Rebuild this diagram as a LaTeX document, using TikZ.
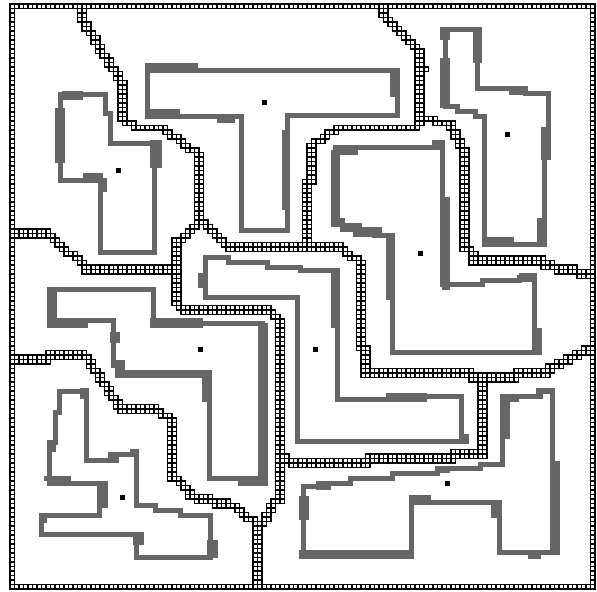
\documentclass[tikz,border=0pt]{standalone}
\usetikzlibrary{calc}

\definecolor{wallgray}{RGB}{102,102,102}

% one run of grid cells from (#1,#2) to (#3,#4), grid units
\newcommand{\cellrun}[4]{%
  \pgfmathtruncatemacro{\nst}{max(abs((#3)-(#1)),abs((#4)-(#2)))}%
  \foreach \k in {0,...,\nst}{%
    \ifnum\nst=0
      \pgfmathsetmacro{\ci}{#1}\pgfmathsetmacro{\cj}{#2}%
    \else
      \pgfmathsetmacro{\ci}{round((#1)+((#3)-(#1))/\nst*\k)}%
      \pgfmathsetmacro{\cj}{round((#2)+((#4)-(#2))/\nst*\k)}%
    \fi
    \draw[cellbox] (\ci,\cj) rectangle ++(1,1);
  }%
}
% two cells wide (side by side / one over the other)
\newcommand{\cellband}[4]{\cellrun{#1}{#2}{#3}{#4}\cellrun{(#1)+1}{#2}{(#3)+1}{#4}}
\newcommand{\cellbandv}[4]{\cellrun{#1}{#2}{#3}{#4}\cellrun{#1}{(#2)+1}{#3}{(#4)+1}}

\begin{document}
\begin{tikzpicture}[
  cellbox/.style={draw=black, fill=white, line width=0.65pt},
  wall/.style={draw=wallgray, line width=2.85pt, line join=miter},
  bump/.style={fill=wallgray},
]
\useasboundingbox (0,0) rectangle (11.94,-11.84);
\fill[white] (0,0) rectangle (11.94,-11.84);

% walls, pixel units
\begin{scope}[x=0.02cm, y=-0.02cm]
% room 1 (top left)
\draw[wall] (60,94) -- (105,94) -- (105,113) -- (110,113) -- (110,143.5) -- (154,143.5)
  -- (154,252.5) -- (100.5,252.5) -- (100.5,180.5) -- (60,180.5) -- cycle;
\fill[bump] (62,91) rectangle (83,100);
\fill[bump] (55,108) rectangle (65,163);
\fill[bump] (83,173) rectangle (103,183);
\fill[bump] (98,178) rectangle (107,192);
\fill[bump] (150,140) rectangle (162,168);

% room 2 (T shape)
\draw[wall] (147.5,70.5) -- (397.5,70.5) -- (397.5,115.5) -- (287.5,115.5) -- (287.5,230)
  -- (241,230) -- (241,116.5) -- (147.5,116.5) -- cycle;
\fill[bump] (145,63) rectangle (198,73);
\fill[bump] (150,109) rectangle (180,116);
\fill[bump] (217,116) rectangle (235,123);
\fill[bump] (390,70) rectangle (400,97);
\fill[bump] (282,130) rectangle (290,210);

% room 3 (top right)
\draw[wall] (445,29.5) -- (477.5,29.5) -- (477.5,88.5) -- (525,88.5) -- (525,93) -- (548.5,93)
  -- (548.5,157) -- (544.5,157) -- (544.5,244.5) -- (484.5,244.5) -- (484.5,116) -- (475,116)
  -- (475,111.5) -- (457,111.5) -- (457,106.5) -- (445,106.5) -- cycle;
\fill[bump] (440,27) rectangle (450,40);
\fill[bump] (440,58) rectangle (450,108);
\fill[bump] (473,27) rectangle (482,63);
\fill[bump] (509,86) rectangle (527,95);
\fill[bump] (541,127) rectangle (551,160);
\fill[bump] (537,218) rectangle (547,247);
\fill[bump] (482,237) rectangle (514,247);

% room 4 (middle right)
\draw[wall] (335.5,147.5) -- (442.5,147.5) -- (442.5,284.5) -- (482,284.5) -- (482,280.5)
  -- (519,280.5) -- (519,277) -- (534.5,277) -- (534.5,352.5) -- (392.5,352.5) -- (392.5,235.5)
  -- (377,235.5) -- (377,232) -- (357,232) -- (357,227.5) -- (342,227.5) -- (342,222.5)
  -- (335.5,222.5) -- cycle;
\fill[bump] (432,140) rectangle (445,150);
\fill[bump] (442,197) rectangle (450,290);
\fill[bump] (335,150) rectangle (358,155);
\fill[bump] (331,150) rectangle (340,223);
\fill[bump] (331,218) rectangle (345,227);
\fill[bump] (340,223) rectangle (362,232);
\fill[bump] (353,227) rectangle (382,237);
\fill[bump] (372,233) rectangle (395,238);
\fill[bump] (386,233) rectangle (395,300);
\fill[bump] (519,273) rectangle (537,282);
\fill[bump] (532,328) rectangle (542,355);

% room 5 (middle)
\draw[wall] (205.5,257.5) -- (228,257.5) -- (228,262.5) -- (267,262.5) -- (267,267.5)
  -- (300,267.5) -- (300,270.5) -- (337.5,270.5) -- (337.5,399.5) -- (388,399.5)
  -- (388,396) -- (461.5,396) -- (461.5,441.5) -- (297.5,441.5) -- (297.5,297.5)
  -- (205.5,297.5) -- cycle;
\fill[bump] (198,273) rectangle (208,288);
\fill[bump] (331,268) rectangle (340,328);
\fill[bump] (386,393) rectangle (427,402);
\fill[bump] (459,434) rectangle (469,444);

% room 6 (middle left)
\draw[wall] (52,289.5) -- (153.5,289.5) -- (153.5,323) -- (262.5,323) -- (262.5,478.5)
  -- (209.5,478.5) -- (209.5,374) -- (122,374) -- (122,365) -- (113.5,365) -- (113.5,320.5)
  -- (52,320.5) -- cycle;
\fill[bump] (47,287) rectangle (57,328);
\fill[bump] (57,318) rectangle (88,328);
\fill[bump] (110,332) rectangle (120,343);
\fill[bump] (115,360) rectangle (125,378);
\fill[bump] (120,370) rectangle (212,378);
\fill[bump] (202,373) rectangle (211,402);
\fill[bump] (150,318) rectangle (203,328);
\fill[bump] (258,323) rectangle (267.5,481);
\fill[bump] (238,479) rectangle (267.5,486);

% room 7 (bottom left)
\draw[wall] (59.5,391) -- (86,391) -- (86,460.5) -- (116,460.5) -- (116,454.5) -- (136,454.5)
  -- (136,505.5) -- (155,505.5) -- (155,510.5) -- (180,510.5) -- (180,515.5) -- (210,515.5)
  -- (210,557) -- (136,557) -- (136,534) -- (41,534) -- (41,515.5) -- (99.5,515.5)
  -- (99.5,483.5) -- (49.5,483.5) -- (49.5,442) -- (55,442) -- (55,412) -- (59.5,412) -- cycle;
\fill[bump] (80,388) rectangle (88.5,398.5);
\fill[bump] (107.5,452) rectangle (116,462);
\fill[bump] (130,449) rectangle (138.5,457);
\fill[bump] (207,540) rectangle (217.7,558);
\fill[bump] (133,531.5) rectangle (143.6,545);
\fill[bump] (38.6,513) rectangle (47,523);
\fill[bump] (97,481) rectangle (107.5,508);
\fill[bump] (43.8,476) rectangle (71,481);
\fill[bump] (47,442) rectangle (56,452);

% room 8 (bottom right)
\draw[wall] (303.5,486.5) -- (318,486.5) -- (318,483.5) -- (350,483.5) -- (350,478.5)
  -- (392,478.5) -- (392,473.5) -- (437,473.5) -- (437,468.5) -- (480,468.5) -- (480,464)
  -- (502.5,464) -- (502.5,396) -- (540,396) -- (540,391) -- (552.5,391) -- (552.5,552.5)
  -- (499,552.5) -- (499,502) -- (411.5,502) -- (411.5,554) -- (303.5,554) -- cycle;
\fill[bump] (500,393.5) rectangle (510,439);
\fill[bump] (500,398.5) rectangle (519,402);
\fill[bump] (536,388) rectangle (555,393.5);
\fill[bump] (550,461) rectangle (560,555);
\fill[bump] (527.6,550) rectangle (541,558.5);
\fill[bump] (491.4,499.5) rectangle (500,518);
\fill[bump] (408.8,494.5) rectangle (431,499.5);
\fill[bump] (298.6,550) rectangle (414,558.5);
\fill[bump] (298.6,496) rectangle (309,520);
\fill[bump] (315.8,486) rectangle (331,489.5);
\fill[bump] (436,467.5) rectangle (450,472.6);

% centre points
\foreach \px/\py in {264/102.5, 118.5/170.5, 507.5/134.5, 420.5/253.5,
                     315.5/349.5, 200.5/349.5, 122.5/497, 447.5/483.5}
  \fill[black] (\px-2.5,\py-2.5) rectangle ++(5,5);
\end{scope}

% cell boundaries, grid units
\begin{scope}[x=0.09cm, y=-0.09cm, shift={(0.2cm,-0.08cm)}]
% outer frame
\cellrun{0}{0}{129}{0}
\cellrun{0}{129}{129}{129}
\cellrun{0}{0}{0}{129}
\cellrun{129}{0}{129}{129}

% top left line
\cellband{15}{0}{15}{3}
\cellband{15}{3}{24}{17}
\cellband{24}{17}{24}{25}
\cellband{24}{25}{27}{27}
\cellrun{27}{27}{33}{27}
\cellband{33}{27}{41}{33}
\cellband{41}{33}{41}{48}
\cellband{41}{48}{37}{52}
\cellband{36}{52}{36}{66}
\cellband{42}{48}{48}{54}

% from the left side
\cellrun{0}{50}{8}{50}\cellrun{0}{51}{8}{51}
\cellband{8}{51}{16}{58}
\cellrun{16}{58}{36}{58}\cellrun{16}{59}{36}{59}

% top right line
\cellband{82}{0}{82}{2}
\cellband{82}{2}{90}{10}
\cellband{90}{10}{90}{26}
\cellrun{92}{14}{92}{14}
\cellrun{72}{27}{90}{27}
\cellband{72}{27}{66}{31}
\cellband{66}{31}{66}{39}
\cellband{65}{39}{65}{53}
\cellrun{91}{25}{94}{25}
\cellrun{94}{26}{98}{26}
\cellband{97}{27}{100}{32}
\cellband{100}{32}{100}{54}
\cellband{101}{54}{102}{56}
\cellrun{102}{56}{118}{56}\cellrun{102}{57}{118}{57}
\cellbandv{118}{57}{128}{59}

% middle line
\cellrun{48}{53}{73}{53}\cellrun{48}{54}{73}{54}
\cellband{73}{54}{77}{57}
\cellband{77}{57}{77}{76}
\cellband{78}{76}{78}{81}
\cellrun{78}{81}{102}{81}\cellrun{78}{82}{102}{82}
\cellrun{102}{82}{112}{82}\cellrun{102}{83}{112}{83}
\cellrun{112}{81}{119}{81}\cellrun{112}{82}{119}{82}
\cellbandv{119}{80}{128}{76}
\cellband{104}{83}{104}{99}

% lower middle line
\cellband{36}{66}{38}{67}
\cellrun{38}{67}{57}{67}\cellrun{38}{68}{57}{68}
\cellband{57}{68}{59}{70}
\cellband{59}{70}{59}{110}
\cellband{58}{110}{55}{115}
\cellband{60}{100}{62}{102}
\cellrun{62}{101}{79}{101}\cellrun{62}{102}{79}{102}
\cellrun{79}{100}{98}{100}\cellrun{79}{101}{98}{101}
\cellrun{98}{99}{105}{99}\cellrun{98}{100}{105}{100}

% lower left line
\cellrun{0}{78}{8}{78}\cellrun{0}{79}{8}{79}
\cellrun{8}{77}{16}{77}\cellrun{8}{78}{16}{78}
\cellband{16}{78}{24}{90}
\cellrun{24}{89}{32}{89}\cellrun{24}{90}{32}{90}
\cellband{32}{90}{35}{92}
\cellband{35}{92}{35}{105}
\cellband{36}{105}{39}{108}
\cellbandv{39}{108}{47}{110}
\cellband{47}{110}{54}{115}
\cellband{54}{115}{54}{129}
\end{scope}
\end{tikzpicture}
\end{document}
